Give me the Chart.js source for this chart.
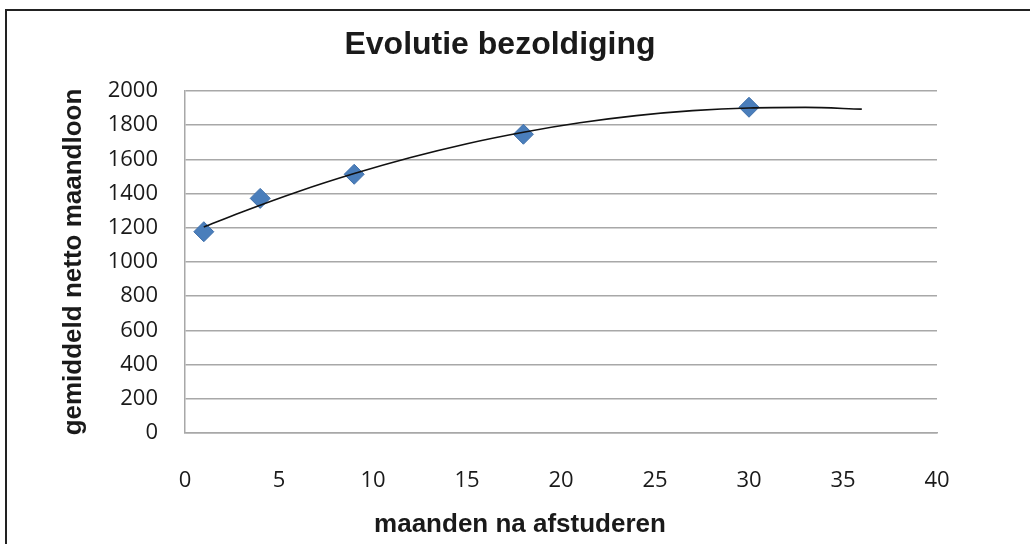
<!DOCTYPE html>
<html>
<head>
<meta charset="utf-8">
<script src="https://cdn.jsdelivr.net/npm/chart.js@4/dist/chart.umd.min.js"></script>
<style>
  body { margin: 0; background: #fff; }
  canvas { display: block; }
</style>
</head>
<body>
<canvas id="salaryChart" width="1030" height="544"></canvas>
<script>
// measured points
const months = [1, 4, 9, 18, 30];
const netSalary = [1177, 1372, 1513, 1747, 1905];

// polynomial trendline
const trendMonths = [1, 3, 6, 9, 12, 15, 18, 21, 24, 27, 30, 33, 36];
const trendSalary = [1204, 1291, 1411, 1517, 1611, 1692, 1759, 1814, 1856, 1885, 1901, 1904, 1894];

const xTicks = [0, 5, 10, 15, 20, 25, 30, 35, 40];
const yTicks = [0, 200, 400, 600, 800, 1000, 1200, 1400, 1600, 1800, 2000];

const gridGray = '#a8a8a8';

// frame + chart title + x axis title (offset from the axis centre like the original)
const decorations = {
  id: 'decorations',
  beforeDraw(chart) {
    const ctx = chart.ctx;
    ctx.save();
    ctx.fillStyle = '#fff';
    ctx.fillRect(0, 0, chart.width, chart.height);
    ctx.strokeStyle = '#222';
    ctx.lineWidth = 2;
    ctx.beginPath();
    ctx.moveTo(6, chart.height);
    ctx.lineTo(6, 10);
    ctx.lineTo(chart.width, 10);
    ctx.stroke();
    ctx.restore();
  },
  afterDraw(chart) {
    const ctx = chart.ctx;
    ctx.save();
    ctx.fillStyle = '#1a1a1a';
    ctx.textAlign = 'center';
    ctx.textBaseline = 'alphabetic';
    ctx.font = 'bold 32px "Liberation Sans", Arial, sans-serif';
    ctx.fillText('Evolutie bezoldiging', 500, 54);
    ctx.font = 'bold 26px "Liberation Sans", Arial, sans-serif';
    ctx.fillText('maanden na afstuderen', 520, 532);
    ctx.restore();
  }
};

const tickFont = { family: '"Open Sans", sans-serif', size: 22 };

const ctx = document.getElementById('salaryChart').getContext('2d');
new Chart(ctx, {
  type: 'scatter',
  data: {
    datasets: [{
      label: 'Trendlijn',
      data: trendMonths.map((m, i) => ({ x: m, y: trendSalary[i] })),
      showLine: true,
      borderColor: '#111',
      borderWidth: 1.6,
      pointRadius: 0,
      cubicInterpolationMode: 'monotone',
      fill: false
    }, {
      label: 'gemiddeld netto maandloon',
      data: months.map((m, i) => ({ x: m, y: netSalary[i] })),
      pointStyle: 'rectRot',
      pointRadius: 10,
      backgroundColor: '#4a7ebb',
      borderColor: '#3f70ab',
      borderWidth: 1
    }]
  },
  options: {
    responsive: false,
    animation: false,
    layout: {
      padding: { top: 91, right: 93, bottom: 0, left: 0 }
    },
    plugins: {
      legend: { display: false },
      tooltip: { enabled: false }
    },
    scales: {
      x: {
        type: 'linear',
        min: 0,
        max: 40,
        afterBuildTicks: (axis) => { axis.ticks = xTicks.map(v => ({ value: v })); },
        afterFit: (axis) => { axis.height = 111; },
        grid: { display: false, drawTicks: false },
        border: { display: true, color: gridGray, width: 1.5 },
        ticks: {
          padding: 35,
          color: '#1a1a1a',
          font: tickFont,
          callback: (v) => String(v)
        }
      },
      y: {
        min: 0,
        max: 2000,
        afterBuildTicks: (axis) => { axis.ticks = yTicks.map(v => ({ value: v })); },
        afterFit: (axis) => { axis.width = 185; },
        grid: { color: gridGray, lineWidth: 1.5, drawTicks: false },
        border: { display: true, color: gridGray, width: 1.5 },
        ticks: {
          padding: 27,
          color: '#1a1a1a',
          font: tickFont,
          callback: (v) => String(v)
        },
        title: {
          display: true,
          text: 'gemiddeld netto maandloon',
          color: '#1a1a1a',
          padding: { top: 58, bottom: 0 },
          font: { family: '"Liberation Sans", Arial, sans-serif', size: 26, weight: 'bold' }
        }
      }
    }
  },
  plugins: [decorations]
});
</script>
</body>
</html>
